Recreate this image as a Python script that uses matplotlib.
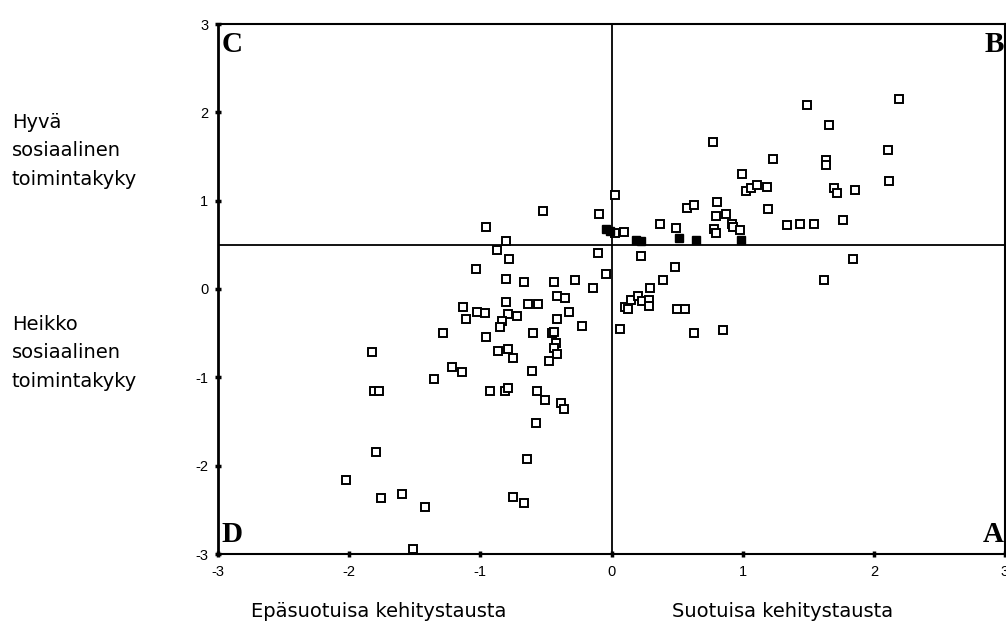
import matplotlib
matplotlib.use("Agg")
import matplotlib.pyplot as plt

# open squares: background (x) vs social functioning (y)
open_x = [-0.954, -0.526, -0.096, 0.03, 0.026, 0.094, -0.807, -0.872, -0.782, -1.035,
          -0.106, -0.043, -0.807, -0.67, -0.435, -0.28, -0.144, -0.415, -0.354, -1.131,
          -1.022, -0.967, -1.109, -0.807, -0.64, -0.564, -0.787, -0.718, -0.837, -0.847,
          -0.326, -0.415, -0.222, -1.288, -0.957, -0.597, -0.455, -0.44, -0.422, -0.437,
          -0.415, -0.475, -1.827, -0.866, -0.787, -0.754, -1.215, -1.141, -1.354, -0.607,
          -1.807, -1.771, -0.923, -0.815, -0.787, -0.569, -0.506, -0.382, -0.361, -0.572,
          -1.797, -0.645, -2.022, -1.599, -1.756, -1.422, -0.749, -0.668, -1.516,
          0.064, 0.291, 0.393, 0.223, 0.481, 0.102, 0.122, 0.152, 0.2, 0.231,
          0.284, 0.284, 0.499, 0.562, 0.626, 0.85, 1.62, 1.842,
          0.367, 0.494, 0.575, 0.628, 0.808, 0.793, 0.876, 0.782, 0.793, 0.916,
          0.929, 0.983, 1.028, 1.066, 1.109, 1.185, 1.195, 1.336, 1.435, 1.541,
          1.765, 1.693, 1.719, 1.858, 2.111, 2.119, 0.995, 1.233, 1.635, 1.635,
          1.661, 1.491, 2.194, 0.775]
open_y = [0.705, 0.88, 0.852, 1.06, 0.63, 0.644, 0.539, 0.44, 0.345, 0.23,
          0.41, 0.167, 0.114, 0.076, 0.076, 0.102, 0.016, -0.075, -0.1, -0.205,
          -0.261, -0.273, -0.336, -0.148, -0.166, -0.166, -0.288, -0.307, -0.364, -0.435,
          -0.261, -0.336, -0.424, -0.503, -0.549, -0.5, -0.495, -0.49, -0.614, -0.67,
          -0.734, -0.81, -0.708, -0.705, -0.682, -0.784, -0.878, -0.935, -1.023, -0.924,
          -1.151, -1.151, -1.151, -1.151, -1.12, -1.151, -1.253, -1.291, -1.356, -1.522,
          -1.848, -1.92, -2.163, -2.325, -2.37, -2.469, -2.352, -2.42, -2.939,
          -0.455, 0.011, 0.099, 0.375, 0.247, -0.205, -0.227, -0.12, -0.075, -0.14,
          -0.12, -0.197, -0.227, -0.227, -0.495, -0.469, 0.1, 0.341,
          0.735, 0.693, 0.917, 0.951, 0.982, 0.826, 0.852, 0.678, 0.63, 0.739,
          0.701, 0.663, 1.107, 1.141, 1.178, 1.152, 0.902, 0.727, 0.735, 0.735,
          0.78, 1.145, 1.09, 1.12, 1.568, 1.227, 1.307, 1.474, 1.462, 1.402,
          1.852, 2.084, 2.152, 1.664]

# filled squares
filled_x = [-0.04, -0.01, 0.19, 0.228, 0.514, 0.645, 0.99]
filled_y = [0.68, 0.655, 0.553, 0.545, 0.58, 0.557, 0.55]

h_line = 0.5
v_line = 0.0
ticks = [-3, -2, -1, 0, 1, 2, 3]
ytick_labels = ["-3", "-2", "-1", "0", "1", "2", "3"]
xtick_labels = ["-3", "-2", "-1", "0", "1", "2", "3"]

upper_label = ["Hyvä", "sosiaalinen", "toimintakyky"]
lower_label = ["Heikko", "sosiaalinen", "toimintakyky"]
x_left_label = "Epäsuotuisa kehitystausta"
x_right_label = "Suotuisa kehitystausta"

fig = plt.figure(figsize=(10.06, 6.28), dpi=100)
ax = fig.add_axes([218/1006, 1-554/628, (1005-218)/1006, (554-24)/628])
ax.set_xlim(-3, 3)
ax.set_ylim(-3, 3)

ax.axhline(h_line, color="black", lw=1.3, zorder=1)
ax.axvline(v_line, color="black", lw=1.3, zorder=1)

ax.plot(open_x, open_y, ls="none", marker="s", ms=5.3, mfc="white", mec="black",
        mew=1.4, zorder=3)
ax.plot(filled_x, filled_y, ls="none", marker="s", ms=5.8, mfc="black", mec="black",
        mew=1.0, zorder=4)

ax.set_xticks(ticks)
ax.set_xticklabels(xtick_labels)
ax.set_yticks(ticks)
ax.set_yticklabels(ytick_labels)
for s in ax.spines.values():
    s.set_linewidth(1.5)
ax.spines["left"].set_linewidth(2.0)
ax.tick_params(axis="both", direction="inout", length=4, width=2.5,
               labelsize=10.5, pad=5)
for lab in ax.get_xticklabels() + ax.get_yticklabels():
    lab.set_fontfamily("Liberation Sans")
ax.tick_params(axis="x", pad=6)

serif = dict(fontfamily="Liberation Serif", fontweight="bold", fontsize=21)
ax.text(0.005, 0.987, "C", transform=ax.transAxes, ha="left", va="top", **serif)
ax.text(0.999, 0.987, "B", transform=ax.transAxes, ha="right", va="top", **serif)
ax.text(0.005, 0.012, "D", transform=ax.transAxes, ha="left", va="bottom", **serif)
ax.text(0.999, 0.012, "A", transform=ax.transAxes, ha="right", va="bottom", **serif)

sans = dict(fontfamily="DejaVu Sans", fontsize=14)
for i, line in enumerate(upper_label):
    fig.text(12/1006, 1-(128 + 28.5*i)/628, line, ha="left", va="baseline", **sans)
for i, line in enumerate(lower_label):
    fig.text(12/1006, 1-(330 + 28.5*i)/628, line, ha="left", va="baseline", **sans)
fig.text(379/1006, 1-617/628, x_left_label, ha="center", va="baseline", **sans)
fig.text(783/1006, 1-617/628, x_right_label, ha="center", va="baseline", **sans)

fig.savefig("out.png", dpi=100)
